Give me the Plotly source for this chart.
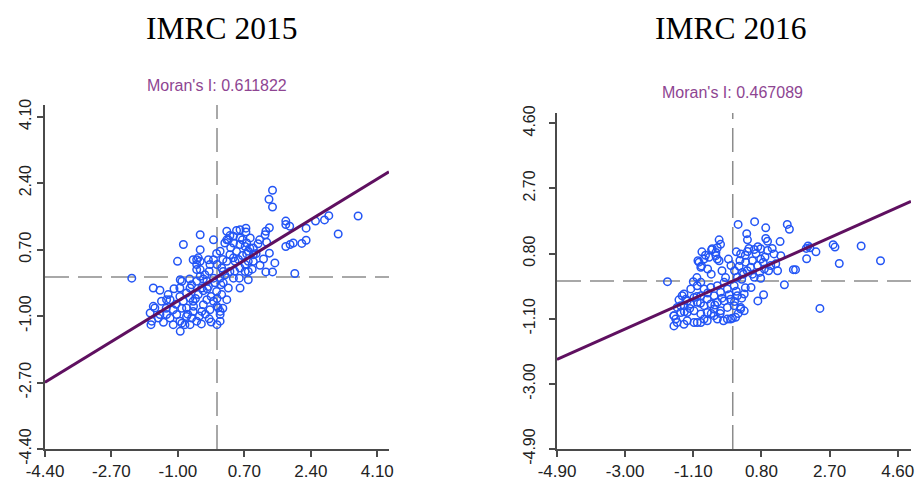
import plotly.graph_objects as go

# ---------------- data ----------------
titles = ["IMRC 2015", "IMRC 2016"]
moran_i = [0.611822, 0.467089]
moran_labels = ["Moran's I: 0.611822", "Moran's I: 0.467089"]

ticks_2015 = [-4.40, -2.70, -1.00, 0.70, 2.40, 4.10]
ticks_2016 = [-4.90, -3.00, -1.10, 0.80, 2.70, 4.60]
xrange_2015 = [-4.4, 4.4]
yrange_2015 = [-4.4, 4.4]
xrange_2016 = [-4.9, 4.97]
yrange_2016 = [-4.9, 4.9]

x_2015 = [
    -2.18, 1.42, 1.33, 1.42, 3.61, 3.10, 2.86, 2.75, 2.52, 2.28, 2.28, 2.17, 1.99,
    1.76, 1.76, 1.86, 1.76, 1.87, 1.95, 1.34, 1.25, 1.23, 1.09, 1.27,
    1.34, 1.19, 1.48, 1.25, 1.42,
    0.74, 0.74, 0.50, 0.25, 0.33, 0.25, 0.59, 0.76, 0.93, 0.80, 0.93, 0.72, 0.80, 0.57, 0.59, 0.80,
    0.42, 0.46, 0.33, 0.08, -0.09, -0.43, -0.43, -0.86, -1.01, -0.61, -0.52, -0.43, -0.22, -0.09,
    0.00, 0.16, 0.33, -0.52, -0.43, -0.94,
    -1.63, -1.46, -1.29, -1.63, -1.71, -1.69, -1.37, -1.46, -0.94, -0.90, -0.69, -0.52, -0.20,
    0.00, 0.08, 0.08, 0.00, 0.25, 0.12,
    0.59, 0.42, 0.29, 0.20, 0.42, 0.59, 0.72, 0.84, 0.76, 0.93, 0.80, 0.59, 0.72, 0.42, 0.25, 0.12,
    -0.01, -0.48, -0.52, -0.43, -0.18, -0.31, -0.09, 0.08, 0.16, 0.29, -0.22, -0.39, -0.69, -0.90,
    -0.95, -1.42, -1.20, -1.59, -1.67, -1.29, -1.12, -1.03, -0.95, -0.82, 0.08, 0.03, -0.09, -0.26,
    -0.48, -0.69, -0.86, -0.78, -0.61, -0.39, -0.18, -0.61, -0.35, -0.78, -1.20, -1.12, -0.65,
    -0.26, -0.01, -0.52, -0.78,
    -0.35, -0.15, -0.60, -0.45, -0.90, -1.05, -0.75, -0.30, 0.10, -0.05, 0.20, 0.45, 0.50, 0.65,
    0.55, 0.35, 0.15, -0.20, -0.35, -0.70, -1.10, -1.25, -0.95, -0.55, -0.25, 0.00, 0.15, -0.15,
    -0.40, -0.65, -1.30, -1.50, 0.85, 1.00, 1.10, 0.65, 0.90, 1.05,
]
y_2015 = [
    -0.03, 2.22, 1.99, 1.79, 1.56, 1.10, 1.57, 1.46, 1.43, 1.25, 0.94, 0.86, 0.09,
    1.43, 1.34, 1.30, 0.78, 0.83, 0.87, 1.26, 1.17, 1.08, 0.95, 0.89,
    0.61, 0.46, 0.36, 0.13, 0.13,
    1.25, 1.15, 1.19, 1.17, 1.06, 0.95, 1.00, 0.87, 0.74, 0.66, 0.40, 0.32, 0.14, -0.03, -0.28, -0.07,
    0.49, 0.40, 0.57, 0.66, 0.95, 1.08, 0.70, 0.83, 0.40, 0.44, 0.44, 0.40, 0.44, 0.44,
    0.32, 0.14, 0.14, 0.19, 0.02, -0.07,
    -0.28, -0.34, -0.58, -0.75, -0.92, -1.22, -1.16, -0.96, -1.39, -1.18, -1.22, -1.13, -1.07,
    -1.22, -1.13, -0.88, -0.75, -0.58, -0.45,
    1.21, 1.04, 0.95, 0.87, 0.87, 0.83, 0.78, 0.74, 0.59, 0.57, 0.40, 0.23, 0.14, -0.03, 0.40, 0.23,
    0.60, 0.49, 0.32, 0.19, 0.32, 0.06, -0.03, -0.03, -0.15, -0.28, -0.24, -0.28, -0.28, -0.11,
    -0.28, -0.62, -0.58, -0.79, -1.13, -0.96, -0.84, -0.96, -1.13, -1.22, -0.96, -0.79, -0.62, -0.58,
    -0.45, -0.54, -0.62, -0.79, -0.88, -0.88, -0.84, -0.62, -0.71, -1.01, -1.05, -1.22, -0.20,
    -0.11, -0.37, -0.11, -0.41,
    -0.35, -0.50, -0.75, -1.00, -0.80, -0.70, -0.95, -0.95, -0.20, -0.15, 0.05, 0.15, 0.65, 0.55,
    0.45, 0.75, 0.45, 0.15, -0.05, -0.05, -0.30, -0.45, -0.50, -0.55, -0.30, -0.55, -0.80, -1.15,
    -1.20, -1.05, -0.80, -1.05, 1.00, 0.60, 0.30, 0.95, 0.20, 0.85,
]

x_2016 = [
    -1.82, 0.15, 0.61, 0.92, 1.52, 1.58, 0.39, 0.41, 0.92, 0.97, 1.32,
    -0.38, -0.34, -0.59, -0.47, -0.43, -0.86, -0.76, -0.97, -0.87, -0.80, -0.43, -0.12,
    2.05, 2.10, 2.15, 2.32, 2.06, 2.80, 2.85, 3.58, 2.97, 4.12, 1.69, 1.75, 1.44, 2.43,
    0.86, 0.70, 0.51, -0.01, -0.26, -0.06, 0.32, 0.22,
    -1.64, -1.59, -1.36, -1.08, -0.89, -0.80, -0.52, -1.41, -1.31, -1.45, -1.64, -1.10, -0.89,
    0.22, 0.41, 0.60, 0.78, 0.97, 1.15, 1.34, 0.36, 0.55, 0.69, 0.88, 1.06, 0.78, 0.18, 0.27,
    0.13, 0.60, 0.78,
    -1.36, -1.17, -0.99, -0.80, -0.61, -0.43, -0.24, -1.27, -1.08, -0.89, -0.71, -0.52, -0.34,
    -0.15, 0.04, -1.55, -1.36, -1.17, -0.99, -0.80, -0.61, -0.43, -0.24, -0.06, 0.13, 0.32,
    -1.64, -1.45, -1.27, -1.08, -0.89, -0.71, -0.52, -0.34, -0.15, 0.04, 0.22,
    -1.55, -1.27, -0.99, -0.71, -0.43, -0.15, 0.08,
    0.05, 0.20, 0.35, 0.50, 0.65, 0.85, 1.00, 1.20, 0.45, 0.70, 0.30, -0.05, 0.10, 0.55, 0.90,
    1.10, 0.25, 0.40, 0.75, 1.25,
    -0.30, -0.60, -0.20, -0.70, -1.00, 0.10, 0.25, 0.05, 0.35, 0.15,
    -1.20, -1.00, -0.70, -0.50, -0.30, -0.10, -0.60, -0.35, -0.90, -1.50, -1.35,
    -0.57, -0.66, -0.47, -0.94, -0.38, -0.89,
]
y_2016 = [
    -0.02, 1.65, 1.73, 1.55, 1.65, 1.51, 1.38, 1.20, 1.24, 1.16, 1.15,
    1.20, 1.07, 0.91, 0.83, 0.97, 0.85, 0.75, 0.59, 0.44, 0.64, 0.64, 0.64,
    0.95, 1.02, 0.97, 0.85, 0.65, 1.06, 0.99, 1.02, 0.51, 0.59, 0.33, 0.33, -0.11, -0.80,
    -0.40, -0.58, -0.19, -1.09, -1.16, -1.11, -0.87, -0.77,
    -1.31, -1.11, -1.26, -1.21, -1.21, -1.11, -1.01, -0.43, -0.53, -0.72, -1.01, -0.02, -0.04,
    0.79, 0.86, 0.92, 0.94, 0.89, 0.79, 0.74, 0.55, 0.59, 0.45, 0.35, 0.45, 0.64, 0.43, 0.25,
    0.11, 0.11, 0.08,
    -0.38, -0.23, -0.14, -0.23, -0.19, -0.14, -0.04, -0.58, -0.48, -0.43, -0.53, -0.43, -0.33,
    -0.23, -0.14, -0.77, -0.72, -0.67, -0.62, -0.72, -0.67, -0.62, -0.58, -0.53, -0.43, -0.38,
    -1.01, -0.92, -0.92, -0.87, -0.96, -0.92, -0.82, -0.87, -0.77, -0.72, -0.82,
    -1.21, -1.16, -1.21, -1.16, -1.11, -1.11, -1.06,
    0.30, 0.60, 0.75, 0.40, 0.80, 0.55, 0.30, 0.50, 0.95, 1.00, 0.20, 0.45, 0.85, 0.20, 0.70,
    0.95, 0.05, 0.30, 0.25, 0.30,
    0.30, 0.20, 0.10, 0.35, 0.10, -0.30, -0.50, -0.60, -0.20, -0.95,
    -0.80, -0.45, -0.35, -0.70, -0.50, -0.40, -0.95, -0.95, -0.65, -0.55, -0.90,
    0.94, 0.69, 0.74, 0.55, 0.59, 0.40,
]

# ---------------- styling ----------------
point_color = "rgb(35,85,245)"
line_color = "#5f1060"
text_purple = "#8e4592"
axis_color = "#4a4a4a"
dash_color = "#8c8c8c"
xtick_font = dict(family="Liberation Sans, Arial, sans-serif", size=17, color="#222222")
ytick_font = dict(family="Liberation Sans, Arial, sans-serif", size=16, color="#222222")

panels = [
    dict(x=x_2015, y=y_2015, ticks=ticks_2015, xr=xrange_2015, yr=yrange_2015,
         xd=[45 / 917, 389 / 917], yd=[1 - 449 / 482, 1 - 105 / 482], ystand=0),
    dict(x=x_2016, y=y_2016, ticks=ticks_2016, xr=xrange_2016, yr=yrange_2016,
         xd=[557 / 917, 911 / 917], yd=[1 - 449 / 482, 1 - 113 / 482], ystand=8),
]

fig = go.Figure()
layout = dict(
    width=917, height=482, margin=dict(l=0, r=0, t=0, b=0, autoexpand=False),
    paper_bgcolor="white", plot_bgcolor="white", showlegend=False,
)
annotations = []
for i, p in enumerate(panels):
    sfx = "" if i == 0 else str(i + 1)
    xa, ya = "x" + sfx, "y" + sfx
    # dashed reference lines
    fig.add_trace(go.Scatter(x=[0, 0], y=p["yr"], mode="lines", xaxis=xa, yaxis=ya,
                             line=dict(color=dash_color, width=1.5, dash="24px,9px"),
                             hoverinfo="skip"))
    fig.add_trace(go.Scatter(x=p["xr"], y=[0, 0], mode="lines", xaxis=xa, yaxis=ya,
                             line=dict(color=dash_color, width=1.5, dash="24px,9px"),
                             hoverinfo="skip"))
    # points
    fig.add_trace(go.Scatter(x=p["x"], y=p["y"], mode="markers", xaxis=xa, yaxis=ya,
                             marker=dict(symbol="circle-open", size=7.5, color=point_color,
                                         line=dict(width=1.5, color=point_color))))
    # regression line, slope = Moran's I
    fig.add_trace(go.Scatter(x=p["xr"], y=[moran_i[i] * v for v in p["xr"]], mode="lines",
                             xaxis=xa, yaxis=ya, line=dict(color=line_color, width=3)))
    common = dict(showgrid=False, zeroline=False, showline=True, linecolor=axis_color,
                  linewidth=2, ticks="outside", ticklen=6, tickwidth=1.5, tickcolor=axis_color,
                  tickmode="array", automargin=False,
                  tickvals=p["ticks"], ticktext=[f"{t:.2f}" for t in p["ticks"]])
    layout["xaxis" + sfx] = dict(common, domain=p["xd"], range=p["xr"], anchor=ya,
                                 tickfont=xtick_font)
    layout["yaxis" + sfx] = dict(common, domain=p["yd"], range=p["yr"], anchor=xa,
                                 tickangle=-90, tickfont=ytick_font,
                                 ticklabelstandoff=p["ystand"])

serif = dict(family="Liberation Serif, Times New Roman, serif", size=31.5, color="black")
sans = dict(family="Liberation Sans, Arial, sans-serif", size=16, color=text_purple)
centre = dict(xref="paper", yref="paper", showarrow=False, xanchor="center", yanchor="middle")
annotations.append(dict(centre, text=titles[0], x=221 / 917, y=1 - 28 / 482, font=serif))
annotations.append(dict(centre, text=titles[1], x=730 / 917, y=1 - 28 / 482, font=serif))
annotations.append(dict(centre, text=moran_labels[0], x=217 / 917, y=1 - 85 / 482, font=sans))
annotations.append(dict(centre, text=moran_labels[1], x=732 / 917, y=1 - 92 / 482, font=sans))
layout["annotations"] = annotations
fig.update_layout(**layout)
fig.write_html("out.html")
